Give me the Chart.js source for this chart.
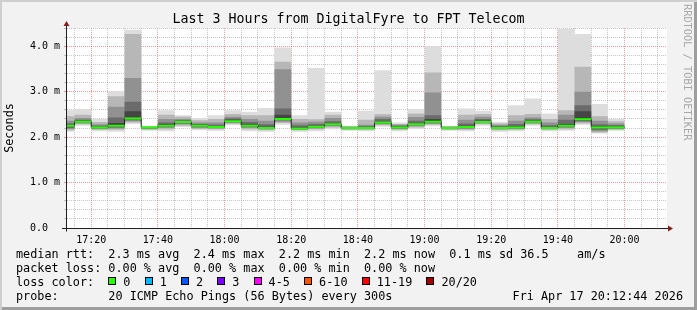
<!DOCTYPE html>
<html lang="en">
<head>
<meta charset="UTF-8">
<title>Last 3 Hours from DigitalFyre to FPT Telecom</title>
<script src="https://cdn.jsdelivr.net/npm/chart.js"></script>
<style>
    body { margin: 0; background: #fff; }
    #frame {
        position: relative; width: 697px; height: 310px; overflow: hidden;
        background: #f2f2f2;
        box-shadow: inset 2px 2px 0 #cfcfcf, inset -3px -3px 0 #9e9e9e;
        font-family: 'DejaVu Sans Mono', monospace; color: #000;
    }
    #chart { position: absolute; left: 0; top: 0; }
    #title { position: absolute; left: 0; top: 11px; width: 697px; text-align: center; font-size: 13.3px; line-height: 16px; white-space: pre; }
    .leg { position: absolute; left: 16px; font-size: 11.8px; line-height: 14px; white-space: pre; }
    .sq { display: inline-block; width: 8px; height: 8px; box-sizing: border-box; border: 1px solid #000; margin-right: 7px; vertical-align: 1px; }
    #stamp { position: absolute; right: 14px; top: 289px; font-size: 11.8px; line-height: 14px; white-space: pre; }
    #wm { position: absolute; left: 682px; top: 4px; writing-mode: vertical-rl; font-size: 10.3px; line-height: 12px; color: #a8a8a8; white-space: pre; }
</style>
</head>
<body>
<div id="frame">
    <canvas id="chart" width="697" height="310"></canvas>
    <div id="title">Last 3 Hours from DigitalFyre to FPT Telecom</div>
    <div class="leg" style="top:247px">median rtt:  2.3 ms avg  2.4 ms max  2.2 ms min  2.2 ms now  0.1 ms sd 36.5    am/s</div>
    <div class="leg" style="top:261px">packet loss: 0.00 % avg  0.00 % max  0.00 % min  0.00 % now</div>
    <div class="leg" id="lossRow" style="top:275px">loss color:  </div>
    <div class="leg" style="top:289px">probe:       20 ICMP Echo Pings (56 Bytes) every 300s</div>
    <div id="stamp">Fri Apr 17 20:12:44 2026</div>
    <div id="wm">RRDTOOL / TOBI OETIKER</div>
</div>

<script>
    // 5 minute steps, each entry is the end of the step
    const times = ['17:15', '17:20', '17:25', '17:30', '17:35', '17:40', '17:45', '17:50', '17:55',
                   '18:00', '18:05', '18:10', '18:15', '18:20', '18:25', '18:30', '18:35', '18:40',
                   '18:45', '18:50', '18:55', '19:00', '19:05', '19:10', '19:15', '19:20', '19:25',
                   '19:30', '19:35', '19:40', '19:45', '19:50', '19:55', '20:00'];

    // smoke: sorted ping times in ms, outer pair first
    const minRtt = [2.12, 2.25, 2.13, 2.12, 2.29, 2.14, 2.13, 2.22, 2.15, 2.14, 2.26, 2.13, 2.12, 2.27, 2.12, 2.13, 2.17,
                    2.14, 2.13, 2.23, 2.13, 2.18, 2.24, 2.14, 2.13, 2.25, 2.12, 2.13, 2.25, 2.13, 2.14, 2.27, 2.08, 2.14];
    const low2 = [2.15, 2.28, 2.16, 2.16, 2.32, 2.16, 2.17, 2.25, 2.18, 2.17, 2.29, 2.17, 2.15, 2.31, 2.15, 2.17, 2.21,
                  2.16, 2.16, 2.26, 2.16, 2.21, 2.27, 2.16, 2.16, 2.28, 2.15, 2.16, 2.28, 2.16, 2.17, 2.30, 2.10, 2.16];
    const low3 = [2.18, 2.30, 2.18, 2.19, 2.35, 2.18, 2.20, 2.28, 2.20, 2.19, 2.31, 2.20, 2.17, 2.34, 2.16, 2.19, 2.24,
                  2.17, 2.17, 2.28, 2.18, 2.24, 2.29, 2.17, 2.18, 2.30, 2.17, 2.18, 2.30, 2.17, 2.20, 2.33, 2.13, 2.18];
    const low4 = [2.20, 2.32, 2.19, 2.21, 2.37, 2.19, 2.22, 2.30, 2.22, 2.20, 2.33, 2.22, 2.18, 2.37, 2.17, 2.21, 2.26,
                  2.18, 2.18, 2.30, 2.19, 2.26, 2.31, 2.18, 2.20, 2.31, 2.18, 2.19, 2.32, 2.18, 2.22, 2.35, 2.16, 2.19];
    const low5 = [2.23, 2.33, 2.20, 2.23, 2.39, 2.20, 2.24, 2.32, 2.24, 2.21, 2.34, 2.24, 2.19, 2.39, 2.18, 2.22, 2.27,
                  2.19, 2.19, 2.31, 2.20, 2.27, 2.33, 2.19, 2.21, 2.32, 2.19, 2.20, 2.33, 2.19, 2.24, 2.37, 2.19, 2.20];
    const medianRtt = [2.25, 2.34, 2.21, 2.25, 2.41, 2.21, 2.25, 2.33, 2.25, 2.22, 2.35, 2.25, 2.20, 2.40, 2.19, 2.23, 2.28,
                       2.20, 2.20, 2.32, 2.21, 2.28, 2.34, 2.20, 2.22, 2.33, 2.20, 2.21, 2.34, 2.20, 2.25, 2.39, 2.21, 2.21];
    const high5 = [2.27, 2.36, 2.23, 2.31, 2.57, 2.22, 2.28, 2.35, 2.27, 2.24, 2.38, 2.28, 2.23, 2.49, 2.22, 2.25, 2.31,
                   2.21, 2.22, 2.35, 2.23, 2.31, 2.40, 2.21, 2.25, 2.36, 2.22, 2.24, 2.36, 2.22, 2.29, 2.57, 2.24, 2.23];
    const high4 = [2.30, 2.38, 2.25, 2.43, 2.78, 2.22, 2.32, 2.37, 2.29, 2.27, 2.41, 2.33, 2.28, 2.63, 2.26, 2.29, 2.35,
                   2.22, 2.24, 2.40, 2.25, 2.36, 2.48, 2.22, 2.30, 2.40, 2.24, 2.29, 2.39, 2.26, 2.38, 2.70, 2.28, 2.26];
    const high3 = [2.36, 2.42, 2.28, 2.67, 3.30, 2.23, 2.40, 2.40, 2.32, 2.32, 2.45, 2.40, 2.36, 3.49, 2.32, 2.34, 2.42,
                   2.23, 2.27, 2.45, 2.27, 2.44, 2.98, 2.23, 2.38, 2.45, 2.27, 2.36, 2.43, 2.32, 2.49, 3.00, 2.36, 2.30];
    const high2 = [2.46, 2.49, 2.33, 2.90, 4.27, 2.24, 2.49, 2.45, 2.37, 2.40, 2.51, 2.48, 2.48, 3.66, 2.40, 2.39, 2.49,
                   2.24, 2.38, 2.50, 2.29, 2.52, 3.42, 2.24, 2.49, 2.51, 2.30, 2.48, 2.51, 2.40, 2.59, 3.55, 2.46, 2.35];
    const maxRtt = [2.59, 2.61, 2.40, 3.01, 4.36, 2.25, 2.59, 2.48, 2.42, 2.48, 2.59, 2.56, 2.64, 3.97, 2.48, 3.52, 2.56,
                    2.25, 2.58, 3.47, 2.32, 2.61, 4.00, 2.25, 2.63, 2.58, 2.33, 2.70, 2.85, 2.52, 4.38, 4.27, 2.73, 2.40];

    const lossLabels = ['0', '1', '2', '3', '4-5', '6-10', '11-19', '20/20'];
    const lossColors = ['#26ff00', '#00b8ff', '#0059ff', '#7e00ff', '#ff00ff', '#ff5500', '#ff0000', '#a10000'];

    const startTime = '17:12:44', endTime = '20:12:44';
    const step = 5;

    const toMin = s => { const p = s.split(':').map(Number); return p[0] * 60 + p[1] + (p[2] || 0) / 60; };
    const xMin = toMin(startTime), xMax = toMin(endTime);
    const fmtTime = v => Math.floor(v / 60) + ':' + String(v % 60).padStart(2, '0');

    // loss colour legend
    const lossRow = document.getElementById('lossRow');
    lossLabels.forEach((lab, i) => {
        const sq = document.createElement('span');
        sq.className = 'sq';
        sq.style.background = lossColors[i];
        lossRow.appendChild(sq);
        lossRow.appendChild(document.createTextNode(lab + (i < lossLabels.length - 1 ? '  ' : '')));
    });

    // stepped series: each value holds from the start of its step to the end
    // (chart.js 'before' mode keeps the previous y until the next x)
    function stepped(values) {
        const pts = times.map((t, i) => ({x: toMin(t) - step, y: values[i]}));
        pts.push({x: toMin(times[times.length - 1]), y: values[values.length - 1]});
        return pts;
    }
    // one flat piece per step, with gaps between
    function pieces(values) {
        const pts = [];
        times.forEach((t, i) => {
            const end = toMin(t);
            pts.push({x: end - step, y: values[i]}, {x: end, y: values[i]}, {x: end, y: null});
        });
        return pts;
    }

    const bands = [
        {low: low5, high: high5, color: '#454545'},
        {low: low4, high: high4, color: '#6b6b6b'},
        {low: low3, high: high3, color: '#919191'},
        {low: low2, high: high2, color: '#b7b7b7'},
        {low: minRtt, high: maxRtt, color: '#dddddd'}
    ];

    const base = {pointRadius: 0, pointHitRadius: 0};
    const datasets = [
        Object.assign({data: pieces(medianRtt), borderColor: lossColors[0], borderWidth: 2, fill: false}, base),
        Object.assign({data: stepped(medianRtt), borderColor: '#1f1f1f', borderWidth: 1, stepped: 'before', fill: false}, base)
    ];
    bands.forEach(b => {
        datasets.push(Object.assign({data: stepped(b.low), borderColor: 'transparent', borderWidth: 0, stepped: 'before', fill: false}, base));
        datasets.push(Object.assign({data: stepped(b.high), borderColor: 'transparent', borderWidth: 0, stepped: 'before',
            fill: '-1', backgroundColor: b.color}, base));
    });

    const minorGrid = 'rgba(143,143,143,0.5)';
    const majorGrid = 'rgba(222,79,79,0.55)';
    const whole = v => Math.abs(v - Math.round(v)) < 1e-6;

    // white canvas behind the plot
    const canvasBg = {
        id: 'canvasBg',
        beforeDraw(chart) {
            const {ctx, chartArea: a} = chart;
            ctx.save();
            ctx.fillStyle = '#fff';
            ctx.fillRect(a.left, a.top, a.right - a.left, a.bottom - a.top);
            ctx.restore();
        }
    };
    // rrdtool style axes with arrow heads
    const axisArrows = {
        id: 'axisArrows',
        afterDatasetsDraw(chart) {
            const {ctx, chartArea: a} = chart;
            const x0 = a.left - 0.5;
            const y0 = Math.round(chart.scales.y.getPixelForValue(0)) + 0.5;
            ctx.save();
            ctx.strokeStyle = '#1f1f1f';
            ctx.lineWidth = 1;
            ctx.beginPath();
            ctx.moveTo(a.left - 5, y0); ctx.lineTo(a.right + 2, y0);
            ctx.moveTo(x0, y0 + 3); ctx.lineTo(x0, a.top - 2);
            ctx.stroke();
            ctx.fillStyle = '#7f1f1f';
            ctx.beginPath();
            ctx.moveTo(x0, a.top - 7); ctx.lineTo(x0 - 3, a.top - 2); ctx.lineTo(x0 + 3, a.top - 2);
            ctx.closePath(); ctx.fill();
            ctx.beginPath();
            ctx.moveTo(a.right + 6, y0); ctx.lineTo(a.right + 1, y0 - 3); ctx.lineTo(a.right + 1, y0 + 3);
            ctx.closePath(); ctx.fill();
            ctx.restore();
        }
    };

    Chart.defaults.font.family = "'DejaVu Sans Mono', monospace";
    Chart.defaults.color = '#000';

    new Chart(document.getElementById('chart'), {
        type: 'line',
        data: {datasets: datasets},
        options: {
            responsive: false,
            animation: false,
            devicePixelRatio: 1,
            events: [],
            layout: {padding: {top: 28, right: 30, left: 0, bottom: 0}},
            plugins: {legend: {display: false}, tooltip: {enabled: false}},
            scales: {
                x: {
                    type: 'linear',
                    min: xMin,
                    max: xMax,
                    afterBuildTicks: s => {
                        const ticks = [];
                        for (let v = Math.ceil(xMin / step) * step; v < xMax; v += step) ticks.push({value: v});
                        s.ticks = ticks;
                    },
                    afterFit: s => { s.height = 82; },
                    border: {display: false, dash: [1, 1]},
                    grid: {
                        color: c => (c.tick && c.tick.value % 20 === 0) ? majorGrid : minorGrid,
                        tickLength: 3,
                        tickColor: 'transparent'
                    },
                    ticks: {
                        autoSkip: false, maxRotation: 0, padding: 3,
                        font: {size: 10}, color: '#000',
                        callback: v => v % 20 === 0 ? fmtTime(v) : ''
                    }
                },
                y: {
                    min: 0,
                    max: 4.4,
                    afterFit: s => { s.width = 67; },
                    border: {display: false, dash: [1, 1]},
                    grid: {
                        color: c => (c.tick && whole(c.tick.value)) ? majorGrid : minorGrid,
                        tickLength: 3,
                        tickColor: c => (c.tick && whole(c.tick.value)) ? majorGrid : minorGrid
                    },
                    ticks: {
                        stepSize: 0.2, autoSkip: false, padding: 4,
                        font: {size: 10}, color: '#000',
                        callback: v => whole(v) ? (Math.round(v) === 0 ? '0.0  ' : v.toFixed(1) + ' m') : ''
                    },
                    title: {display: true, text: 'Seconds', color: '#000', font: {size: 11.8}, padding: {top: 3, bottom: 0}}
                }
            }
        },
        plugins: [canvasBg, axisArrows]
    });
</script>
</body>
</html>
